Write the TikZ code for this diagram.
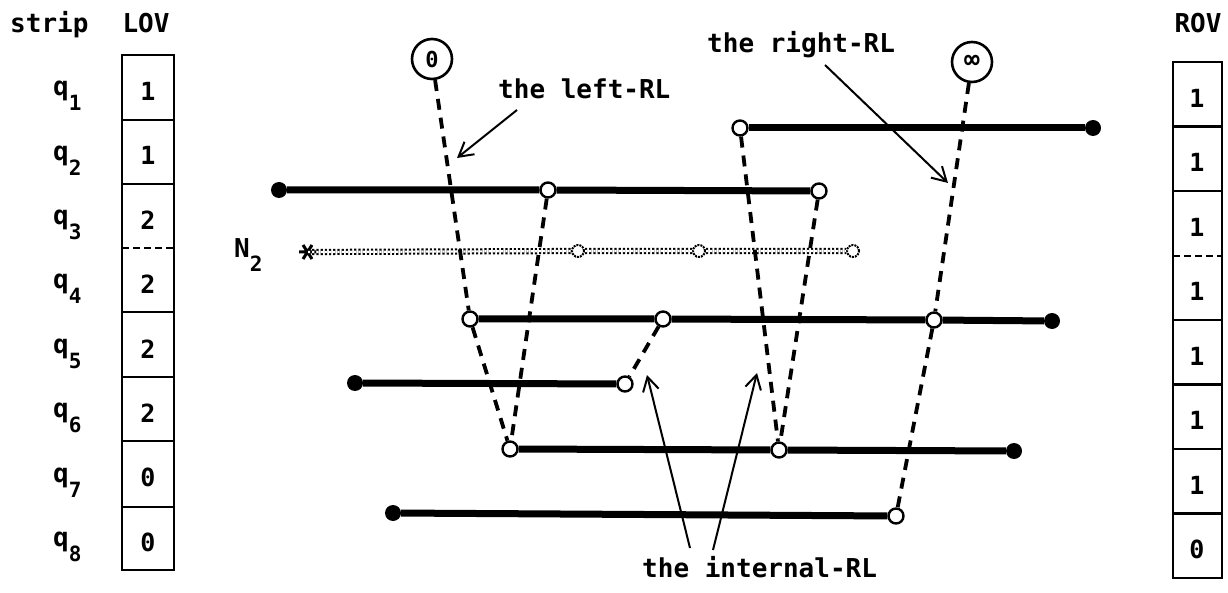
\documentclass[tikz,border=0pt]{standalone}
\usepackage{fontspec}
\setmonofont{DejaVu Sans Mono}
\usetikzlibrary{arrows.meta}
\newcommand\qlab[1]{q\raisebox{-15pt}{\fontsize{21}{21}\selectfont #1}}
\begin{document}
\begin{tikzpicture}[x=1pt,y=-1pt,
  txt/.style={font=\ttfamily\bfseries\fontsize{26}{28}\selectfont, inner sep=0},
  num/.style={font=\ttfamily\bfseries\fontsize{25}{27}\selectfont, inner sep=0},
  seg/.style={line width=7pt},
  rl/.style={line width=3.8pt, dash pattern=on 11pt off 8pt},
  ptr/.style={line width=2pt, -{Straight Barb[length=14pt,width=16pt,line width=2pt]}},
  opn/.style={circle, draw, fill=white, line width=2.4pt, minimum size=15pt, inner sep=0},
  fil/.style={circle, fill, minimum size=16pt, inner sep=0},
  lim/.style={circle, draw, line width=2.6pt, minimum size=40pt, inner sep=0, font=\ttfamily\bfseries\fontsize{22}{22}\selectfont},
  dcirc/.style={circle, draw, densely dotted, line width=2pt, minimum size=12pt, inner sep=0},
  dotline/.style={double, double distance=2.2pt, line width=2pt, dash pattern=on 2.2pt off 2pt},
  box/.style={line width=2.8pt},
]
\useasboundingbox (0,0) rectangle (1228,593);

% headers
\node[txt, anchor=base west] (strip) at (10,33) {strip};
\node[txt, anchor=base] (lov) at (146,33) {LOV};
\node[txt, anchor=base] (rov) at (1198,33) {ROV};

% LOV box
\draw[box] (122,55) rectangle (174,570);
\foreach \y in {120,184,312,377,441,507} \draw[box] (122,\y) -- (174,\y);
\draw[box, dash pattern=on 7pt off 4pt] (122,248) -- (174,248);
\foreach \v [count=\i] in {1,1,2,2,2,2,0,0}
  \node[num] (lv\i) at (148, {55+64.4*(\i-0.5)+4}) {\v};
\foreach \i in {1,...,8}
  \node[txt, anchor=base west] (q\i) at (53, {55+64.4*(\i-0.5)+8.5}) {\qlab{\i}};

% ROV box
\draw[box] (1173,62) rectangle (1222,578);
\foreach \y in {126.5,191,320,384.5,449,513.5} \draw[box] (1173,\y) -- (1222,\y);
\draw[box, dash pattern=on 7pt off 4pt] (1173,256) -- (1222,256);
\foreach \v [count=\i] in {1,1,1,1,1,1,1,0}
  \node[num] (rv\i) at (1197, {62+64.5*(\i-0.5)+4}) {\v};

% limit circles
\node[lim] (zero) at (432,59) {0};
\node[lim] (inf) at (972,62) {\fontsize{26}{26}\selectfont ∞};

% segments' end points
\node[opn] (a1) at (740,128) {};
\node[fil] (a2) at (1093,128) {};
\node[fil] (b1) at (279,190) {};
\node[opn] (b2) at (548,190) {};
\node[opn] (b3) at (819,191) {};
\node[opn] (c1) at (470,319) {};
\node[opn] (c2) at (663,319) {};
\node[opn] (c3) at (934,320) {};
\node[fil] (c4) at (1052,321) {};
\node[fil] (d1) at (355,383) {};
\node[opn] (d2) at (625,384) {};
\node[opn] (e1) at (510,449) {};
\node[opn] (e2) at (779,450) {};
\node[fil] (e3) at (1014,451) {};
\node[fil] (f1) at (393,513) {};
\node[opn] (f2) at (896,516) {};

% N2 strip (dotted)
\node[txt, anchor=base west] (n2) at (234,258) {N\raisebox{-14pt}{\fontsize{21}{21}\selectfont 2}};
\coordinate (n2s) at (308,252);
\draw[line width=3pt] (299,252) -- (316,252) (303,245) -- (312,259) (303,259) -- (312,245);
\node[dcirc] (n2a) at (578,251) {};
\node[dcirc] (n2b) at (699,251) {};
\node[dcirc] (n2c) at (853,251) {};
\draw[dotline] (n2s) -- (n2a) -- (n2b) -- (n2c);

% thick segments
\draw[seg] (a1) -- (a2);
\draw[seg] (b1) -- (b2) -- (b3);
\draw[seg] (c1) -- (c2) -- (c3) -- (c4);
\draw[seg] (d1) -- (d2);
\draw[seg] (e1) -- (e2) -- (e3);
\draw[seg] (f1) -- (f2);

% RL links
\draw[rl] (zero) -- (c1) -- (e1);
\draw[rl] (b2) -- (e1);
\draw[rl] (a1) -- (e2);
\draw[rl] (b3) -- (e2);
\draw[rl] (inf) -- (c3) -- (f2);
\draw[rl] (c2) -- (d2);

% labels and pointers
\node[txt, anchor=base west] (lrl) at (498,99) {the left-RL};
\node[txt, anchor=base west] (rrl) at (707,53) {the right-RL};
\node[txt, anchor=base west] (irl) at (642,577) {the internal-RL};
\coordinate (lt) at (517,110); \coordinate (lh) at (457,158);
\coordinate (rt) at (825,65);  \coordinate (rh) at (948,183);
\coordinate (it1) at (690,548); \coordinate (ih1) at (647,375);
\coordinate (it2) at (713,550); \coordinate (ih2) at (757,373);
\draw[ptr] (lt) -- (lh);
\draw[ptr] (rt) -- (rh);
\draw[ptr] (it1) -- (ih1);
\draw[ptr] (it2) -- (ih2);
\end{tikzpicture}
\end{document}
